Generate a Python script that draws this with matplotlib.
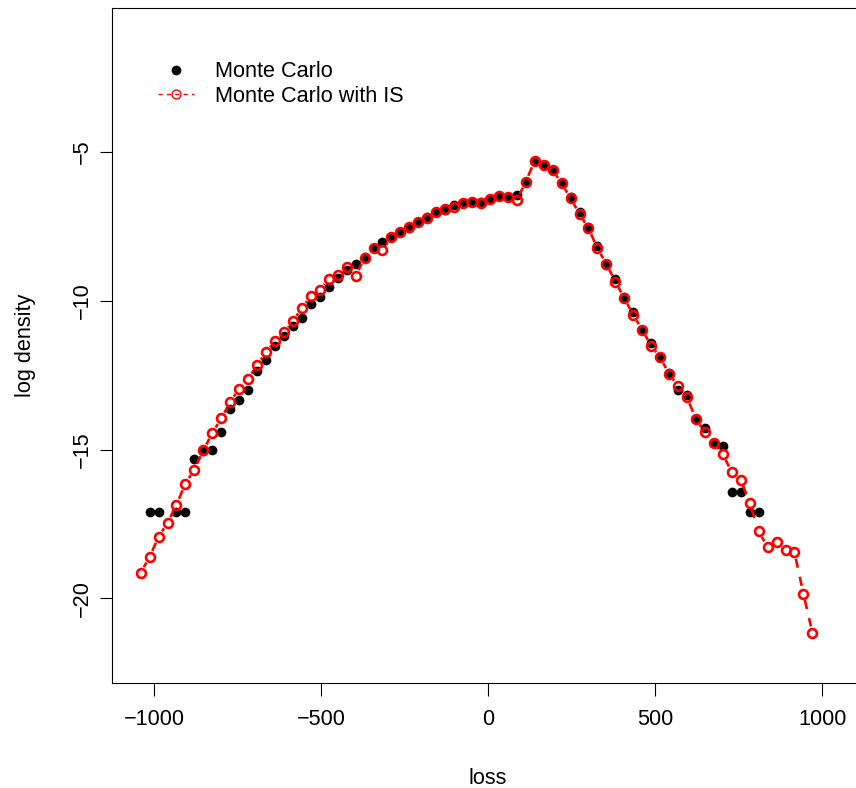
import numpy as np
import matplotlib.pyplot as plt
from matplotlib.collections import LineCollection
from matplotlib.lines import Line2D

plt.rcParams['font.family'] = ['Liberation Sans', 'DejaVu Sans']
plt.rcParams['font.size'] = 15.6

nan = np.nan

# loss histogram bins (centres)
bin_start = -1040
bin_width = 26.8
n_bins = 76
loss = bin_start + bin_width * np.arange(n_bins)

# log density, plain Monte Carlo (nan = empty bin)
mc = [nan, -17.08, -17.08, nan, -17.08, -17.08, -15.30, -15.03, -15.00, -14.41,
      -13.62, -13.32, -13.00, -12.37, -11.98, -11.53, -11.17, -10.86, -10.58, -10.10,
      -9.86, -9.52, -9.24, -8.96, -8.77, -8.51, -8.23, -8.01, -7.84, -7.67,
      -7.54, -7.34, -7.19, -7.02, -6.95, -6.78, -6.70, -6.67, -6.67, -6.59,
      -6.48, -6.51, -6.44, -6.00, -5.29, -5.44, -5.60, -6.04, -6.51, -7.01,
      -7.52, -8.15, -8.79, -9.27, -9.86, -10.36, -10.97, -11.40, -11.90, -12.43,
      -12.99, -13.15, -13.97, -14.27, -14.76, -14.89, -16.41, -16.41, -17.10, -17.10,
      nan, nan, nan, nan, nan, nan]

# log density, Monte Carlo with importance sampling
mc_is = [-19.14, -18.60, -17.93, -17.46, -16.85, -16.14, -15.67, -15.02, -14.44, -13.95,
         -13.40, -12.95, -12.63, -12.15, -11.73, -11.34, -11.06, -10.69, -10.24, -9.83,
         -9.63, -9.26, -9.13, -8.87, -9.16, -8.56, -8.23, -8.29, -7.86, -7.67,
         -7.51, -7.34, -7.22, -7.00, -6.93, -6.84, -6.71, -6.67, -6.71, -6.59,
         -6.49, -6.52, -6.61, -6.00, -5.29, -5.44, -5.60, -6.05, -6.55, -7.08,
         -7.56, -8.23, -8.76, -9.35, -9.91, -10.47, -10.97, -11.51, -11.90, -12.45,
         -12.86, -13.24, -13.97, -14.42, -14.76, -15.15, -15.76, -16.01, -16.79, -17.74,
         -18.27, -18.11, -18.36, -18.45, -19.84, -21.15]

fig = plt.figure(figsize=(8.56, 7.88), dpi=100)
# the original plot is cut off a little on the right side
ax = fig.add_axes([112.4 / 856, 1 - 683 / 788, (862 - 112.4) / 856, (683 - 8) / 788])
ax.set_xlim(-1124.5, 1118.5)
ax.set_ylim(-22.84, -0.16)

# plain MC: filled black points
ax.plot(loss, mc, 'o', color='black', ms=7, mew=0, zorder=3)

# IS: R style type="b" -> dashed segments that stop short of the points
trans = ax.transData
pts = trans.transform(np.column_stack([loss, mc_is]))
gap = 6.5
segs = []
for p, q in zip(pts[:-1], pts[1:]):
    d = q - p
    dist = np.hypot(d[0], d[1])
    if dist > 2 * gap + 1:
        u = d / dist
        a = p + u * gap
        b = q - u * gap
        segs.append(trans.inverted().transform(np.array([a, b])))
lc = LineCollection(segs, colors='red', linewidths=1.9, linestyles=[(0, (3.5, 3.5))], zorder=4)
ax.add_collection(lc)
ax.plot(loss, mc_is, 'o', mfc='none', mec='red', ms=6.4, mew=1.9, zorder=5)

# axes in R base style
ax.set_xticks([-1000, -500, 0, 500, 1000])
ax.set_yticks([-20, -15, -10, -5])
ax.tick_params(direction='out', length=9, width=0.8, color='black')
ax.tick_params(axis='x', pad=10)
ax.tick_params(axis='y', pad=5)
plt.setp(ax.get_yticklabels(), rotation=90, va='center')
for s in ax.spines.values():
    s.set_linewidth(0.8)
ax.spines['right'].set_visible(False)

ax.set_xlabel('loss', labelpad=27)
ax.set_ylabel('log density', labelpad=26)

handles = [Line2D([], [], marker='o', color='black', ls='none', ms=7, mew=0),
           Line2D([], [], marker='o', color='red', mfc='none', ms=6.4, mew=1,
                  lw=1, ls=(0, (3, 3)))]
ax.legend(handles, ['Monte Carlo', 'Monte Carlo with IS'], loc='upper left',
          bbox_to_anchor=(0.061, 0.921), frameon=False, borderpad=0, borderaxespad=0,
          handlelength=1.66, handletextpad=0.95, labelspacing=0.15)

fig.savefig('out.png', dpi=100)
